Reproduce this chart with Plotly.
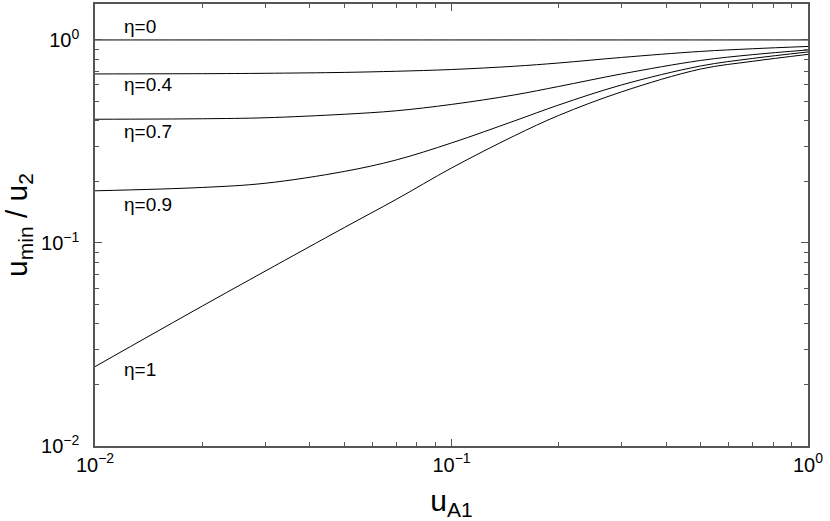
import plotly.graph_objects as go
import numpy as np

u_A1 = [0.01, 0.02, 0.03, 0.05, 0.07, 0.1, 0.15, 0.2, 0.3, 0.5, 0.7, 1.0]
ratio_eta0 = [1.0] * len(u_A1)
ratio_eta04 = [0.680, 0.682, 0.685, 0.692, 0.701, 0.715, 0.742, 0.770, 0.820, 0.878, 0.905, 0.929]
ratio_eta07 = [0.4068, 0.4091, 0.4137, 0.4305, 0.4478, 0.4812, 0.5359, 0.5902, 0.6801, 0.7924, 0.8464, 0.8928]
ratio_eta09 = [0.1807, 0.1877, 0.1968, 0.2250, 0.2564, 0.3109, 0.3990, 0.4784, 0.6003, 0.7444, 0.8109, 0.8727]
ratio_eta1 = [0.0246, 0.0489, 0.0726, 0.119, 0.164, 0.234, 0.337, 0.425, 0.555, 0.719, 0.785, 0.849]

series = [("η=0", ratio_eta0), ("η=0.4", ratio_eta04), ("η=0.7", ratio_eta07),
          ("η=0.9", ratio_eta09), ("η=1", ratio_eta1)]
label_y = [1.16, 0.60, 0.356, 0.154, 0.0239]
label_x = 0.012

x_ticks = [0.01, 0.1, 1]
x_ticktext = ["10<sup>−2</sup>", "10<sup>−1</sup>", "10<sup>0</sup>"]
y_ticks = [0.01, 0.1, 1]
y_ticktext = ["10<sup>−2</sup>", "10<sup>−1</sup>", "10<sup>0</sup>"]
minor_x = [m * d for d in (0.01, 0.1) for m in range(2, 10)]
minor_y = [m * d for d in (0.01, 0.1, 1) for m in range(2, 10) if m * d < 1.5]

font = "Liberation Sans, Arial, Helvetica, sans-serif"

fig = go.Figure()
for name, vals in series:
    fig.add_trace(go.Scatter(x=u_A1, y=vals, mode="lines", name=name,
                             line=dict(color="black", width=1, shape="spline", smoothing=1.0),
                             showlegend=False))

for (name, _), ly in zip(series, label_y):
    fig.add_annotation(x=np.log10(label_x), y=np.log10(ly), text=name, showarrow=False,
                       xanchor="left", yanchor="middle", borderpad=0,
                       font=dict(family=font, size=19, color="black"))

axis_common = dict(type="log", showgrid=False, zeroline=False, showline=True,
                   linecolor="#555", linewidth=1.5, mirror="ticks", automargin=False,
                   ticks="inside", ticklen=7, tickcolor="#555", tickwidth=1,
                   ticklabeloverflow="allow",
                   tickfont=dict(family=font, size=20, color="black"))

fig.update_xaxes(range=[-2, 0], tickvals=x_ticks, ticktext=x_ticktext,
                 minor=dict(tickvals=minor_x, ticks="inside", ticklen=4, tickcolor="#555", showgrid=False),
                 title=dict(text="u<sub>A1</sub>", font=dict(family=font, size=30, color="black"),
                            standoff=16),
                 **axis_common)
fig.update_yaxes(range=[-2, 0.177], tickvals=y_ticks, ticktext=y_ticktext,
                 minor=dict(tickvals=minor_y, ticks="inside", ticklen=4, tickcolor="#555", showgrid=False),
                 ticklabelstandoff=10,
                 title=dict(text="u<sub>min</sub> / u<sub>2</sub>",
                            font=dict(family=font, size=30, color="black"), standoff=8),
                 **axis_common)

fig.update_layout(width=830, height=521, plot_bgcolor="white", paper_bgcolor="white",
                  margin=dict(l=95, r=22, t=4, b=75))

fig.write_html("out.html", config={"displayModeBar": False},
               post_script="document.body.style.margin='0px';")
